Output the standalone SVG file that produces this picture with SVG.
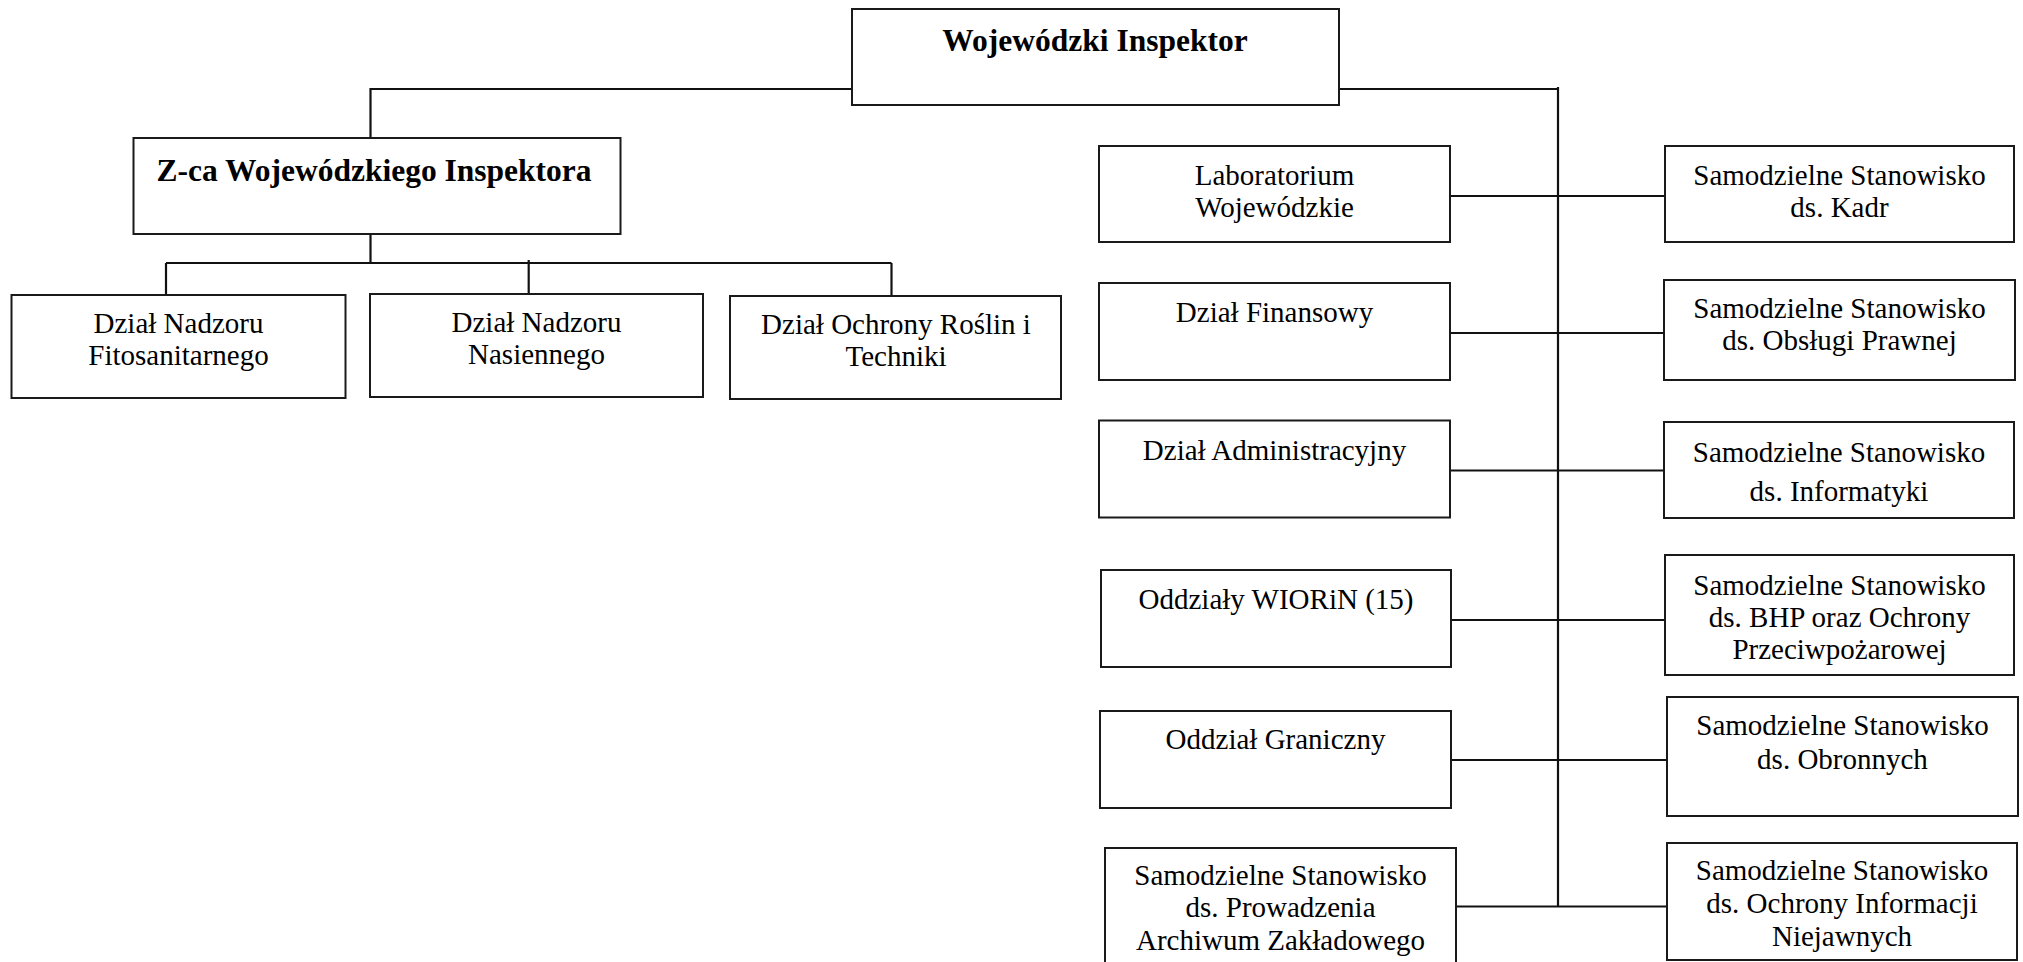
<svg xmlns="http://www.w3.org/2000/svg" width="2023" height="962" viewBox="0 0 2023 962">
<style>
.box{fill:#fff;stroke:#1a1a1a;stroke-width:2}
.t{font-family:"Liberation Serif","Times New Roman",serif;font-size:29px;fill:#000;text-anchor:middle}
.b{font-family:"Liberation Serif","Times New Roman",serif;font-size:31.5px;font-weight:bold;fill:#000;text-anchor:middle}
.c{stroke:#111;stroke-width:2.2;fill:none}
</style>
<rect width="2023" height="962" fill="#fff"/>
<g id="connectors">
<path class="c" d="M852 89 H370.5 V138"/>
<path class="c" d="M370.5 234 V263"/>
<path class="c" d="M166 263 H891.5"/>
<path class="c" d="M166 263 V295"/>
<path class="c" d="M528.7 260 V294"/>
<path class="c" d="M891.5 263 V296"/>
<path class="c" d="M1339 89 H1558"/>
<path class="c" d="M1558 87 V907"/>
<path class="c" d="M1450 196 H1665"/>
<path class="c" d="M1450 333 H1664"/>
<path class="c" d="M1450 470.5 H1664"/>
<path class="c" d="M1451 620 H1665"/>
<path class="c" d="M1451 760 H1667"/>
<path class="c" d="M1456 906.5 H1667"/>
</g>
<g id="woj">
<rect class="box" x="852" y="9" width="487" height="96"/>
<text class="b" x="1095" y="51">Wojewódzki Inspektor</text>
</g>
<g id="zca">
<rect class="box" x="133.5" y="138" width="487" height="96"/>
<text class="b" x="374" y="181">Z-ca Wojewódzkiego Inspektora</text>
</g>
<g id="fito">
<rect class="box" x="11.5" y="295" width="334" height="103"/>
<text class="t" x="178.5" y="333">Dział Nadzoru</text>
<text class="t" x="178.5" y="365">Fitosanitarnego</text>
</g>
<g id="nasienny">
<rect class="box" x="370" y="294" width="333" height="103"/>
<text class="t" x="536.5" y="332">Dział Nadzoru</text>
<text class="t" x="536.5" y="364">Nasiennego</text>
</g>
<g id="ochrona">
<rect class="box" x="730" y="296" width="331" height="103"/>
<text class="t" x="896" y="334">Dział Ochrony Roślin i</text>
<text class="t" x="896" y="366">Techniki</text>
</g>
<g id="lab">
<rect class="box" x="1099" y="146" width="351" height="96"/>
<text class="t" x="1274.5" y="185">Laboratorium</text>
<text class="t" x="1274.5" y="217">Wojewódzkie</text>
</g>
<g id="fin">
<rect class="box" x="1099" y="283" width="351" height="97"/>
<text class="t" x="1274.5" y="322">Dział Finansowy</text>
</g>
<g id="admin">
<rect class="box" x="1099" y="420.5" width="351" height="97"/>
<text class="t" x="1274.5" y="459.5">Dział Administracyjny</text>
</g>
<g id="wiorin">
<rect class="box" x="1101" y="570" width="350" height="97"/>
<text class="t" x="1276" y="609">Oddziały WIORiN (15)</text>
</g>
<g id="graniczny">
<rect class="box" x="1100" y="711" width="351" height="97"/>
<text class="t" x="1275.5" y="749">Oddział Graniczny</text>
</g>
<g id="archiwum">
<rect class="box" x="1105" y="848" width="351" height="130"/>
<text class="t" x="1280.5" y="885">Samodzielne Stanowisko</text>
<text class="t" x="1280.5" y="917">ds. Prowadzenia</text>
<text class="t" x="1280.5" y="950">Archiwum Zakładowego</text>
</g>
<g id="kadr">
<rect class="box" x="1665" y="146" width="349" height="96"/>
<text class="t" x="1839.5" y="185">Samodzielne Stanowisko</text>
<text class="t" x="1839.5" y="217">ds. Kadr</text>
</g>
<g id="prawna">
<rect class="box" x="1664" y="280" width="351" height="100"/>
<text class="t" x="1839.5" y="318">Samodzielne Stanowisko</text>
<text class="t" x="1839.5" y="350">ds. Obsługi Prawnej</text>
</g>
<g id="informatyka">
<rect class="box" x="1664" y="422" width="350" height="96"/>
<text class="t" x="1839" y="462">Samodzielne Stanowisko</text>
<text class="t" x="1839" y="501">ds. Informatyki</text>
</g>
<g id="bhp">
<rect class="box" x="1665" y="555" width="349" height="120"/>
<text class="t" x="1839.5" y="595">Samodzielne Stanowisko</text>
<text class="t" x="1839.5" y="627">ds. BHP oraz Ochrony</text>
<text class="t" x="1839.5" y="659">Przeciwpożarowej</text>
</g>
<g id="obronne">
<rect class="box" x="1667" y="697" width="351" height="119"/>
<text class="t" x="1842.5" y="735">Samodzielne Stanowisko</text>
<text class="t" x="1842.5" y="769">ds. Obronnych</text>
</g>
<g id="niejawne">
<rect class="box" x="1667" y="843" width="350" height="117"/>
<text class="t" x="1842" y="880">Samodzielne Stanowisko</text>
<text class="t" x="1842" y="913">ds. Ochrony Informacji</text>
<text class="t" x="1842" y="946">Niejawnych</text>
</g>
</svg>
